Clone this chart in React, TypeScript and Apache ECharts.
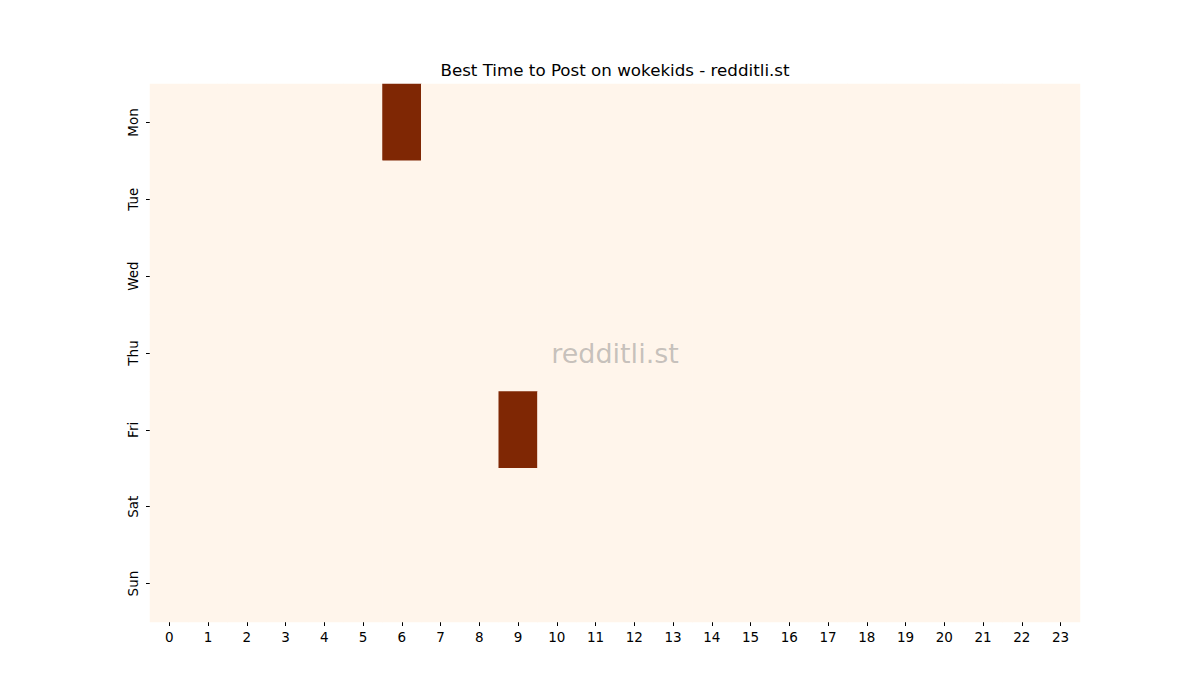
import { HeatmapChart } from 'echarts/charts';
import { GraphicComponent, GridComponent, VisualMapComponent } from 'echarts/components';
import * as echarts from 'echarts/core';
import { SVGRenderer } from 'echarts/renderers';
import { useEffect, useRef } from 'react';

echarts.use([HeatmapChart, GridComponent, VisualMapComponent, GraphicComponent, SVGRenderer]);

const DAYS = ['Mon', 'Tue', 'Wed', 'Thu', 'Fri', 'Sat', 'Sun'];
const HOURS = Array.from({ length: 24 }, (_, i) => String(i));

// posts per (hour, day); only two non-zero cells
const HOT_CELLS: Array<[number, number, number]> = [
  [6, 0, 1], // Mon 06
  [9, 4, 1], // Fri 09
];

const TITLE = 'Best Time to Post on wokekids - redditli.st';
const WATERMARK = 'redditli.st';
const FONT = 'DejaVu Sans';

export default function App() {
  const ref = useRef<HTMLDivElement | null>(null);

  useEffect(() => {
    document.body.style.margin = '0';
    if (!ref.current) return undefined;
    const chart = echarts.init(ref.current, undefined, { renderer: 'svg' });

    const data: Array<[number, number, number]> = [];
    for (let d = 0; d < DAYS.length; d += 1) {
      for (let h = 0; h < HOURS.length; h += 1) {
        const hot = HOT_CELLS.find((c) => c[0] === h && c[1] === d);
        data.push([h, d, hot ? hot[2] : 0]);
      }
    }

    chart.setOption({
      animation: false,
      backgroundColor: '#ffffff',
      grid: { left: 150, right: 120, top: 84, bottom: 78 },
      xAxis: {
        type: 'category',
        data: HOURS,
        axisLine: { show: false },
        axisTick: { show: true, alignWithLabel: true, length: 4, lineStyle: { color: '#000' } },
        axisLabel: { fontFamily: FONT, fontSize: 13.5, color: '#000', margin: 8 },
        splitLine: { show: false },
      },
      yAxis: {
        type: 'category',
        data: DAYS,
        inverse: true,
        axisLine: { show: false },
        axisTick: { show: true, alignWithLabel: true, length: 4, lineStyle: { color: '#000' } },
        axisLabel: { fontFamily: FONT, fontSize: 13.5, color: '#000', rotate: 90, margin: 10 },
        splitLine: { show: false },
      },
      visualMap: {
        show: false,
        min: 0,
        max: 1,
        inRange: { color: ['#fff5eb', '#7f2704'] },
      },
      graphic: [
        {
          type: 'text',
          x: 615,
          y: 70,
          style: {
            text: TITLE,
            fontFamily: FONT,
            fontSize: 16.7,
            fill: '#000',
            align: 'center',
            verticalAlign: 'middle',
          },
        },
        {
          type: 'text',
          x: 615,
          y: 353,
          style: {
            text: WATERMARK,
            fontFamily: FONT,
            fontSize: 27,
            fill: 'rgba(128,128,128,0.45)',
            align: 'center',
            verticalAlign: 'middle',
          },
          z: 100,
        },
      ],
      series: [
        {
          type: 'heatmap',
          data,
          itemStyle: { borderWidth: 0 },
          emphasis: { disabled: true },
        },
      ],
    });

    return () => chart.dispose();
  }, []);

  return <div ref={ref} style={{ width: 1200, height: 700 }} />;
}
